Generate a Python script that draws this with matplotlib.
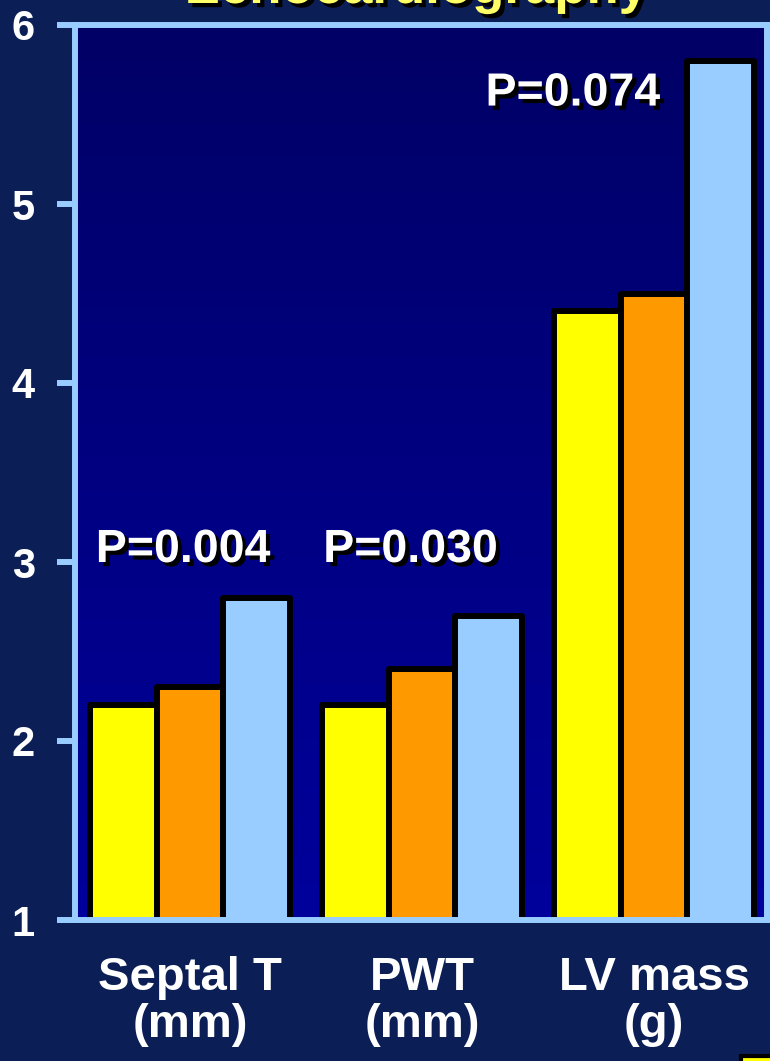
import numpy as np
import matplotlib
matplotlib.use("Agg")
import matplotlib.pyplot as plt
import matplotlib.patheffects as pe
from matplotlib.colors import LinearSegmentedColormap
from matplotlib.patches import Rectangle

# Data
categories = ["Septal T\n(mm)", "PWT\n(mm)", "LV mass\n(g)"]
group_a = [2.2, 2.2, 4.4]
group_b = [2.3, 2.4, 4.5]
group_c = [2.8, 2.7, 5.8]
p_labels = ["P=0.004", "P=0.030", "P=0.074"]
p_label_pos = [(-0.03, 3.0), (0.95, 3.0), (1.65, 5.55)]
y_ticks = [1, 2, 3, 4, 5, 6]

BG = "#0B1F56"
AXIS = "#99CCFF"
series_colors = ["#FFFF00", "#FF9900", "#99CCFF"]

plt.rcParams["font.family"] = ["Liberation Sans", "DejaVu Sans"]
plt.rcParams["font.weight"] = "bold"

fig = plt.figure(figsize=(7.7, 10.61), dpi=100, facecolor=BG)
ax = fig.add_axes([75 / 770, 1 - 920 / 1061, (767 - 75) / 770, (920 - 25) / 1061])
ax.set_facecolor("#000080")

x = np.arange(len(categories))
xlim = (-0.496, 2.487)
ylim = (1, 6)

# vertical gradient behind the bars
grad = LinearSegmentedColormap.from_list("bg", ["#00009C", "#000066"])
ax.imshow(np.linspace(0, 1, 256).reshape(-1, 1), cmap=grad, origin="lower",
          extent=(xlim[0], xlim[1], ylim[0], ylim[1]), aspect="auto", zorder=0)

w = 0.287
for offset, vals, col in zip((-w, 0, w), (group_a, group_b, group_c), series_colors):
    ax.bar(x + offset, vals, width=w, color=col, edgecolor="black",
           linewidth=4.3, joinstyle="round", zorder=2)

shadow = [pe.withSimplePatchShadow(offset=(3, -3), shadow_rgbFace="black", alpha=1.0)]
for txt, (px, py) in zip(p_labels, p_label_pos):
    ax.text(px, py, txt, ha="center", va="baseline", fontsize=33.5, color="white",
            fontweight="bold", path_effects=shadow, zorder=4)

ax.set_xlim(*xlim)
ax.set_ylim(*ylim)
ax.set_yticks(y_ticks)
ax.set_yticklabels([str(t) for t in y_ticks])
ax.set_xticks(x)
ax.set_xticklabels(categories, linespacing=1.08)

for s in ax.spines.values():
    s.set_color(AXIS)
    s.set_linewidth(4.3)
    s.set_zorder(3)

ax.tick_params(axis="y", length=13, width=4.3, color=AXIS, pad=16,
               labelsize=30, labelcolor="white")
ax.tick_params(axis="x", length=0, pad=26, labelsize=34, labelcolor="white")
for lab in ax.get_xticklabels() + ax.get_yticklabels():
    lab.set_fontweight("bold")

# title at the top edge
fig.text(0.540, 1 - 3 / 1061, "Echocardiography", ha="center", va="baseline",
         fontsize=38, fontweight="bold", color="#FFFF66",
         path_effects=[pe.withSimplePatchShadow(offset=(3, -3),
                                                shadow_rgbFace="black", alpha=1.0)])

# legend swatch at the lower right corner
fig.patches.append(Rectangle((741 / 770, -0.01), 0.06, 0.01 + 5 / 1061,
                             transform=fig.transFigure, facecolor="#FFFF00",
                             edgecolor="black", linewidth=3))

fig.savefig("out.png", dpi=100, facecolor=BG)
